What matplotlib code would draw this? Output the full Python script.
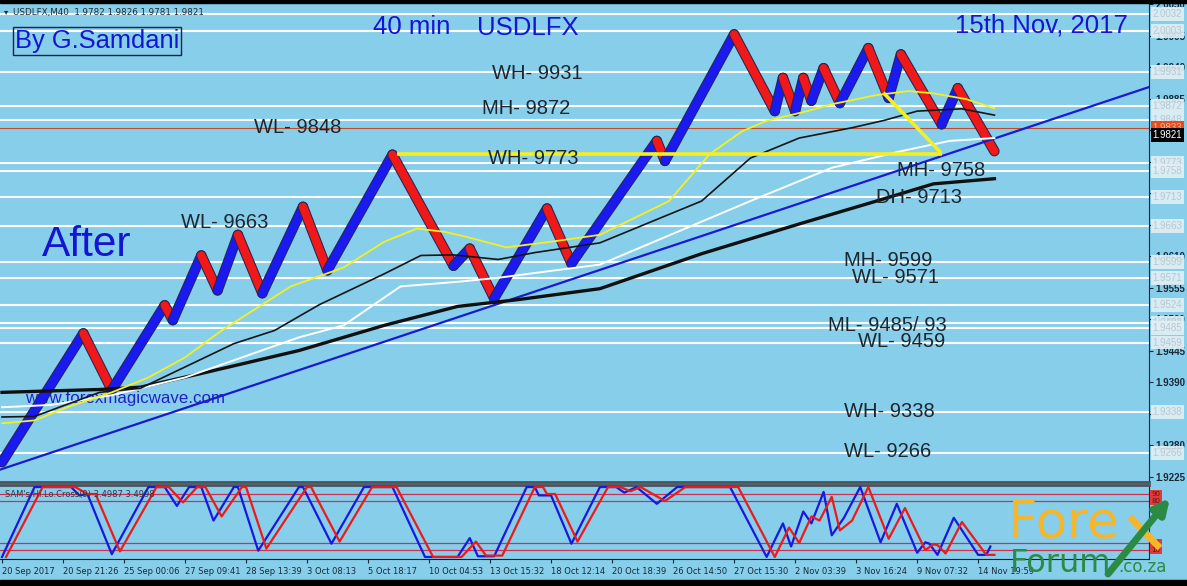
import matplotlib
matplotlib.use('Agg')
import matplotlib.pyplot as plt
import matplotlib.patheffects as pe
from matplotlib.patches import Rectangle
from matplotlib.transforms import blended_transform_factory

W, H = 1187, 586
SKY = '#87ceeb'
FONT = 'Liberation Sans'

# ---- price swings (bar index, price)
swing_bar = [0, 20, 27, 40, 42, 49, 53, 58, 64, 74, 80, 96, 111, 115, 121, 134, 140,
             161, 163, 180, 190, 192, 195, 197, 199, 202, 206, 213, 218, 221, 231, 235, 244]
swing_price = [1.9250, 1.9475, 1.9376, 1.9524, 1.9498, 1.9611, 1.9550, 1.9647, 1.9545,
               1.9696, 1.9585, 1.9787, 1.9593, 1.9623, 1.9536, 1.9693, 1.9597, 1.9811,
               1.9776, 1.9997, 1.9863, 1.9921, 1.9863, 1.9921, 1.9881, 1.9938, 1.9877,
               1.9973, 1.9886, 1.9962, 1.9840, 1.9903, 1.9793]

# ---- moving averages
yellow_bar = [0, 8, 16, 27, 36, 45, 54, 71, 84, 94, 102, 109, 115, 124, 135, 147, 164,
              174, 182, 188, 198, 204, 215, 223, 229, 237, 244]
yellow_price = [1.9318, 1.9323, 1.9346, 1.9372, 1.9398, 1.9433, 1.9480, 1.9557, 1.9590,
                1.9635, 1.9658, 1.9652, 1.9642, 1.9625, 1.9635, 1.9647, 1.9706, 1.9788,
                1.9828, 1.9846, 1.9863, 1.9875, 1.9891, 1.9898, 1.9894, 1.9884, 1.9868]
black_bar = [0, 8, 24, 34, 57, 67, 78, 94, 103, 111, 122, 131, 147, 172, 184, 196, 209,
             217, 225, 236, 244]
black_price = [1.9329, 1.9330, 1.9372, 1.9379, 1.9457, 1.9480, 1.9525, 1.9579, 1.9611,
               1.9612, 1.9604, 1.9616, 1.9633, 1.9706, 1.9781, 1.9816, 1.9834, 1.9847,
               1.9863, 1.9867, 1.9856]
white_bar = [0, 12, 27, 45, 73, 84, 98, 112, 122, 136, 147, 184, 204, 221, 233, 244]
white_price = [1.9346, 1.9350, 1.9367, 1.9398, 1.9468, 1.9489, 1.9557, 1.9565, 1.9572,
               1.9585, 1.9595, 1.9706, 1.9764, 1.9793, 1.9811, 1.9816]
slow_bar = [0, 24, 34, 49, 73, 94, 112, 127, 147, 172, 196, 215, 229, 244]
slow_price = [1.9372, 1.9377, 1.9381, 1.9405, 1.9445, 1.9489, 1.9522, 1.9534, 1.9553,
              1.9614, 1.9666, 1.9706, 1.9736, 1.9745]

trend_bar = [-0.5, 282]
trend_price = [1.9237, 1.9905]
wh_bar = [97, 231]
wh_price = [1.9788, 1.9788]
zig_bar = [217, 230.5]
zig_price = [1.9893, 1.9793]

# ---- horizontal levels
level_prices = [2.0032, 2.0003, 1.9931, 1.9872, 1.9848, 1.9773, 1.9758, 1.9713, 1.9663,
                1.9599, 1.9571, 1.9524, 1.9493, 1.9485, 1.9459, 1.9338, 1.9266]
ask_price = 1.9833
close_price = 1.9821

level_texts = [('WH- 9931', 120.5, 1.9929), ('MH- 9872', 118, 1.9868),
               ('WL- 9848', 62, 1.9834), ('WH- 9773', 119.5, 1.9780),
               ('MH- 9758', 220, 1.9759), ('DH- 9713', 215, 1.9712),
               ('WL- 9663', 44, 1.9668), ('MH- 9599', 207, 1.9602),
               ('WL- 9571', 209, 1.9572), ('ML- 9485/ 93', 203, 1.9489),
               ('WL- 9459', 210.5, 1.9461), ('WH- 9338', 207, 1.9339),
               ('WL- 9266', 207, 1.9268)]

price_ticks = [1.9225, 1.9280, 1.9335, 1.9390, 1.9445, 1.9500, 1.9555, 1.9610, 1.9665,
               1.9720, 1.9775, 1.9830, 1.9885, 1.9940, 1.9995, 2.0050]
# labels that sit fully under a level box are left blank
price_tick_labels = ['1.9225', '1.9280', '', '1.9390', '1.9445', '1.9500', '1.9555',
                     '1.9610', '', '', '', '', '1.9885', '1.9940', '1.9995', '2.0050']

# ---- oscillator (blue main, red signal)
osc_blue_bar = [0, 8, 17, 19, 21, 27, 36, 40, 43, 46, 49, 52, 57, 58, 63, 73, 74, 81, 89,
                96, 104, 112, 115, 117, 121, 129, 131, 132, 135, 140, 147, 151, 153, 156,
                161, 166, 179, 188, 192, 194, 197, 199, 202, 204, 207, 211, 216, 220, 225,
                227, 228, 230, 234, 240, 242, 243]
osc_blue = [0, 100, 100, 88, 90, 4, 100, 100, 73, 100, 100, 52, 100, 100, 9, 100, 100, 19,
            100, 100, 0, 0, 27, 1, 1, 100, 100, 88, 88, 19, 100, 100, 92, 100, 76, 100, 100,
            0, 48, 15, 65, 48, 93, 31, 56, 100, 21, 76, 6, 21, 19, 3, 56, 3, 3, 15]
osc_red_bar = [1, 10, 18, 21, 23, 29, 38, 41, 44.5, 48, 50, 54, 59, 60, 65, 75, 76, 83, 91,
               97, 106, 113, 116.5, 119, 123, 131, 133, 134, 136, 141.5, 149, 152, 154.5,
               157, 163, 168, 181, 190, 193.5, 196, 199, 201, 204, 206, 209, 213, 218, 222,
               227, 229, 230, 232, 236, 242, 244]
osc_red = [0, 100, 100, 90, 90, 8, 100, 100, 78, 100, 100, 58, 100, 100, 12, 100, 100, 22,
           100, 100, 0, 0, 22, 2, 2, 100, 100, 90, 90, 22, 100, 100, 94, 100, 80, 100, 100,
           0, 42, 20, 58, 52, 86, 38, 52, 100, 26, 70, 10, 18, 17, 5, 50, 3, 3]
osc_levels = [90, 80, 20, 10]

tick_bars = [0, 15, 30, 45, 60, 75, 90, 105, 120, 135, 150, 165, 180, 195, 210, 225, 240]
tick_labels = ['20 Sep 2017', '20 Sep 21:26', '25 Sep 00:06', '27 Sep 09:41',
               '28 Sep 13:39', '3 Oct 08:13', '5 Oct 18:17', '10 Oct 04:53',
               '13 Oct 15:32', '18 Oct 12:14', '20 Oct 18:39', '26 Oct 14:50',
               '27 Oct 15:30', '2 Nov 03:39', '3 Nov 16:24', '9 Nov 07:32', '14 Nov 19:59']


def fx(px):
    return px / W


def fy(py):
    return 1 - py / H


fig = plt.figure(figsize=(W / 100, H / 100), dpi=100, facecolor=SKY)
ax = fig.add_axes([0, 104 / H, 1149 / W, 478 / H], facecolor=SKY)
osc = fig.add_axes([0, 27 / H, 1149 / W, 74 / H], facecolor=SKY)

# ---------------- main price panel
ax.set_xlim(-0.49, 282.0)
ax.set_ylim(1.92155, 2.00476)
ax.set_xticks([])
ax.yaxis.tick_right()
ax.set_yticks(price_ticks)
ax.set_yticklabels(price_tick_labels, family=FONT, fontweight='bold')
ax.tick_params(axis='y', direction='out', length=3, width=0.8, colors='#1a2838',
               labelsize=7, pad=1.5)
for s in ['top', 'left']:
    ax.spines[s].set_visible(False)
ax.spines['right'].set_color('#1a2838')
ax.spines['bottom'].set_color('#4a545c')
ax.spines['bottom'].set_linewidth(2)

mixed = blended_transform_factory(ax.transAxes, ax.transData)
for p in level_prices:
    ax.axhline(p, color='white', lw=1.5, zorder=1)
    ax.text(1.003, p, '%.4f' % p, transform=mixed, fontsize=7, color='#bcc6ce',
            family=FONT, va='center', ha='left', zorder=6, clip_on=False,
            bbox=dict(boxstyle='square,pad=0.2', fc='#e2f0f6', ec='none', alpha=0.9))
ax.axhline(ask_price, color='#c04a2a', lw=0.8, zorder=1)
ax.text(1.003, ask_price, '%.4f' % ask_price, transform=mixed, fontsize=7, color='#f4b8a0',
        family=FONT, va='center', ha='left', zorder=7, clip_on=False,
        bbox=dict(boxstyle='square,pad=0.2', fc='#e84a18', ec='none'))
ax.text(1.003, close_price, '%.4f' % close_price, transform=mixed, fontsize=7,
        color='white', family=FONT, va='center', ha='left', zorder=7, clip_on=False,
        bbox=dict(boxstyle='square,pad=0.2', fc='black', ec='none'))

# site watermark sits behind the candles
ax.text(fx(25), fy(398), 'www.forexmagicwave.com', transform=fig.transFigure,
        fontsize=12.2, color='#2020c8', family=FONT, va='center', zorder=2)

# candle band: blue for rising legs, red for falling legs
for i in range(len(swing_bar) - 1):
    col = '#1a1af0' if swing_price[i + 1] > swing_price[i] else '#f01818'
    ax.plot(swing_bar[i:i + 2], swing_price[i:i + 2], color=col, lw=6,
            solid_capstyle='round', zorder=4,
            path_effects=[pe.Stroke(linewidth=7.5, foreground='#262650'), pe.Normal()])

ax.plot(trend_bar, trend_price, color='#1a1ad0', lw=1.6, zorder=5)
ax.plot(slow_bar, slow_price, color='#101010', lw=2.4, zorder=5)
ax.plot(white_bar, white_price, color='white', lw=1.4, zorder=5)
ax.plot(black_bar, black_price, color='#151515', lw=1.2, zorder=5)
ax.plot(yellow_bar, yellow_price, color='#f4f020', lw=1.3, zorder=5)
ax.plot(wh_bar, wh_price, color='#f4f020', lw=2.6, zorder=5, solid_capstyle='butt')
ax.plot(zig_bar, zig_price, color='#f4f020', lw=2.6, zorder=5)

for txt, b, p in level_texts:
    ax.text(b, p, txt, fontsize=14.5, color='#1c2630', family=FONT, va='center',
            ha='left', zorder=8)

blue_txt = '#1414d4'
ax.text(fx(373), fy(27), '40 min', transform=fig.transFigure, fontsize=18.5,
        color=blue_txt, family=FONT, va='center', zorder=8)
ax.text(fx(477), fy(28), 'USDLFX', transform=fig.transFigure, fontsize=18.5,
        color=blue_txt, family=FONT, va='center', zorder=8)
ax.text(fx(955), fy(25), '15th Nov, 2017', transform=fig.transFigure, fontsize=18.5,
        color=blue_txt, family=FONT, va='center', zorder=8)
ax.text(fx(15), fy(41), 'By G.Samdani', transform=fig.transFigure, fontsize=18.4,
        color=blue_txt, family=FONT, va='center', zorder=8,
        bbox=dict(boxstyle='square,pad=0.08', fc='none', ec='#1a2050', lw=1))
ax.text(fx(42), fy(245), 'After', transform=fig.transFigure, fontsize=30.5,
        color=blue_txt, family=FONT, va='center', zorder=8)

# header line
fig.text(fx(4), fy(12), '\u25be', fontsize=6, color='#202830', va='center')
fig.text(fx(13), fy(12), 'USDLFX,M40  1.9782 1.9826 1.9781 1.9821', fontsize=6.3,
         color='#202830', va='center')

# ---------------- oscillator panel
osc.set_xlim(-0.49, 282.0)
osc.set_ylim(-2.9, 102.9)
osc.set_yticks([])
for v in osc_levels:
    osc.axhline(v, color='#d03050', lw=0.9, zorder=1)
osc.plot(osc_blue_bar, osc_blue, color='#1818e0', lw=1.6, zorder=3)
osc.plot(osc_red_bar, osc_red, color='#ee1a1a', lw=1.6, zorder=4)
osc.spines['left'].set_visible(False)
osc.spines['right'].set_color('#1a2838')
osc.spines['top'].set_color('#4a545c')
osc.spines['top'].set_linewidth(2)
osc.spines['bottom'].set_color('#101820')
osc.set_xticks(tick_bars)
osc.set_xticklabels(tick_labels)
osc.tick_params(axis='x', direction='out', length=3, width=0.8, colors='#1a2838',
                labelsize=6, pad=3)
for t in osc.get_xticklabels():
    t.set_ha('left')
osc.text(0.004, 0.87, "SAM's Hi.Lo.Cross(9) 3.4987 3.4998", transform=osc.transAxes,
         fontsize=6, color='#30383e', va='center', zorder=5)
omixed = blended_transform_factory(osc.transAxes, osc.transData)
for v in osc_levels:
    osc.text(1.002, v, str(v), transform=omixed, fontsize=5, color='#6a1010',
             va='center', ha='left', clip_on=False,
             bbox=dict(boxstyle='square,pad=0.2', fc='#e03a3a', ec='none'))

# black frame strips
fig.patches.append(Rectangle((0, 0), 1, 6 / H, transform=fig.transFigure,
                             color='black', zorder=0))
fig.patches.append(Rectangle((0, 1 - 3 / H), 1, 3 / H, transform=fig.transFigure,
                             color='black', zorder=0))

# ---------------- Forex Forum logo (pixel overlay)
ov = fig.add_axes([0, 0, 1, 1])
ov.set_xlim(0, W)
ov.set_ylim(H, 0)
ov.axis('off')
orange = '#f6b62a'
green = '#2b8a44'
ov.text(1008, 538, 'Fore', fontsize=37, color=orange, va='baseline', ha='left')
ov.plot([1130, 1160], [517, 548], color=orange, lw=5, solid_capstyle='butt')
ov.text(1010, 572, 'Forum', fontsize=23, color=green, va='baseline', ha='left')
ov.text(1118, 572, '.co.za', fontsize=12, color=green, va='baseline', ha='left')
ov.annotate('', xy=(1170, 498), xytext=(1108, 574),
            arrowprops=dict(arrowstyle='-|>', color=green, lw=5, mutation_scale=22,
                            shrinkA=0, shrinkB=0))

fig.savefig('out.png', dpi=100, facecolor=SKY)
